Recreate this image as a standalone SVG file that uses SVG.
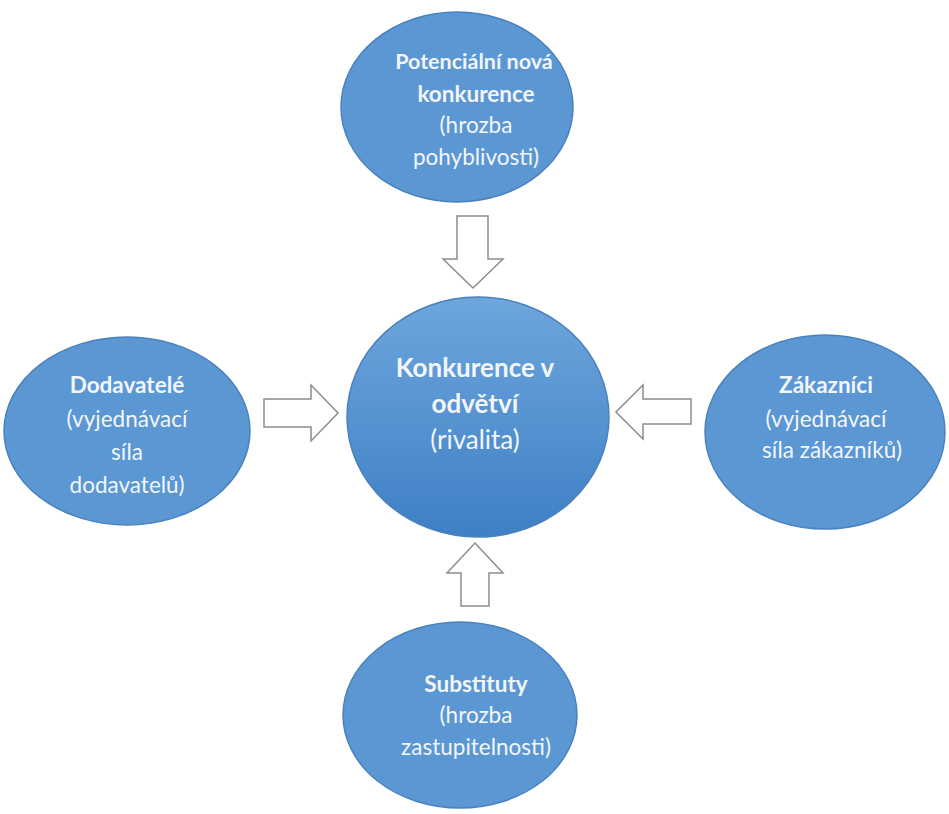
<svg xmlns="http://www.w3.org/2000/svg" width="949" height="814" viewBox="0 0 949 814">
<defs>
<linearGradient id="gc" x1="0" y1="0" x2="0" y2="1">
<stop offset="0" stop-color="#6EA6DD"/>
<stop offset="1" stop-color="#3E80C5"/>
</linearGradient>
<style>
.node{fill:#5B97D3;stroke:#4A82BD;stroke-width:1.5}
.center{fill:url(#gc);stroke:#4A82BD;stroke-width:1.5}
.arrow{fill:#FFFFFF;stroke:#8C8C8C;stroke-width:1.5;stroke-linejoin:miter}
text{font-family:Lato,"Open Sans","Liberation Sans",sans-serif;fill:#F2F6FB;text-anchor:middle}
.b{font-weight:bold}
.s{font-size:22.5px}
.l{font-size:26px}
</style>
</defs>
<rect width="949" height="814" fill="#FFFFFF"/>
<g id="connectors">
<path class="arrow" d="M457,216 H488 V259 H503 L473,288 L443,259 H457 Z"/>
<path class="arrow" d="M461,606 H489 V573 H503 L475,543 L447,573 H461 Z"/>
<path class="arrow" d="M264,399 H311 V385 L338,413 L311,441 V427 H264 Z"/>
<path class="arrow" d="M691,399 H643 V385 L616,412 L643,439 V424 H691 Z"/>
</g>
<g id="top">
<ellipse class="node" cx="457" cy="107" rx="116" ry="95"/>
<text class="b" x="474" y="69" font-size="21.5px">Potenciální nová</text>
<text class="s b" x="476" y="102">konkurence</text>
<text class="s" x="476" y="133">(hrozba</text>
<text class="s" x="476" y="165">pohyblivosti)</text>
</g>
<g id="center">
<ellipse class="center" cx="478" cy="417" rx="131" ry="120"/>
<text class="l b" x="475" y="377">Konkurence v</text>
<text class="l b" x="475" y="413">odvětví</text>
<text class="l" x="475" y="449">(rivalita)</text>
</g>
<g id="left">
<ellipse class="node" cx="127" cy="431" rx="123" ry="94"/>
<text class="s b" x="127" y="393">Dodavatelé</text>
<text class="s" x="127" y="427">(vyjednávací</text>
<text class="s" x="127" y="460">síla</text>
<text class="s" x="127" y="493">dodavatelů)</text>
</g>
<g id="right">
<ellipse class="node" cx="825" cy="432" rx="120" ry="97"/>
<text class="s b" x="826" y="393">Zákazníci</text>
<text class="s" x="826" y="427">(vyjednávací</text>
<text class="s" x="832" y="458">síla zákazníků)</text>
</g>
<g id="bottom">
<ellipse class="node" cx="460" cy="715" rx="117" ry="93"/>
<text class="s b" x="476" y="692">Substituty</text>
<text class="s" x="476" y="723">(hrozba</text>
<text class="s" x="476" y="755">zastupitelnosti)</text>
</g>
</svg>
